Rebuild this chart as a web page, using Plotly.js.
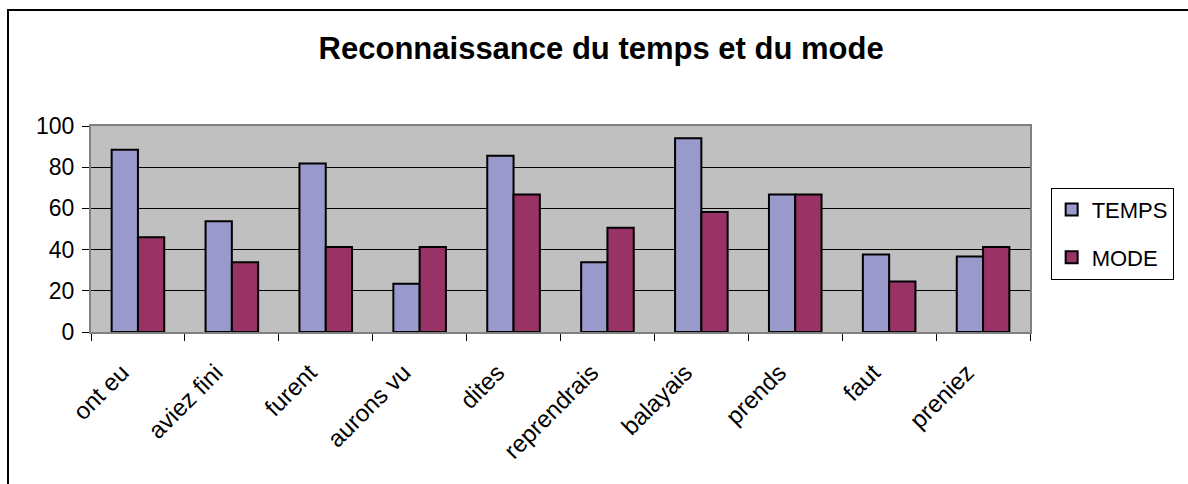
<!DOCTYPE html>
<html>
<head>
<meta charset="utf-8">
<script src="https://cdn.plot.ly/plotly-3.0.1.min.js"></script>
<style>
  html, body { margin: 0; padding: 0; background: #fff; }
  #wrap { position: relative; width: 1188px; height: 484px; overflow: hidden; }
  #chart { width: 1188px; height: 484px; }
  #frame { position: absolute; left: 7px; top: 9px; width: 1300px; height: 600px;
           border-left: 2px solid #000; border-top: 2px solid #000; pointer-events: none; }
</style>
</head>
<body>
<div id="wrap">
  <div id="chart"></div>
  <div id="frame"></div>
</div>
<script>
const categories = ["ont eu", "aviez fini", "furent", "aurons vu", "dites",
                    "reprendrais", "balayais", "prends", "faut", "preniez"];
const tempsValues = [88.5, 53.8, 81.8, 23.4, 85.5, 33.9, 94.0, 66.8, 37.6, 36.6];
const modeValues  = [46.0, 33.9, 41.3, 41.3, 66.8, 50.6, 58.2, 66.8, 24.5, 41.3];
const yTicks = [0, 20, 40, 60, 80, 100];

const FONT = "Liberation Sans, Arial, sans-serif";

const traces = [
  { type: "bar", name: "TEMPS", x: categories, y: tempsValues, legendgroup: "a",
    marker: { color: "#9999CC", line: { color: "#000", width: 2 } } },
  { type: "bar", name: "MODE", x: categories, y: modeValues, legendgroup: "b",
    marker: { color: "#993366", line: { color: "#000", width: 2 } } }
];

const layout = {
  width: 1188, height: 484,
  margin: { l: 91, r: 158, t: 126, b: 152 },
  paper_bgcolor: "#ffffff",
  plot_bgcolor: "#C0C0C0",
  font: { family: FONT, color: "#000" },
  title: { text: "<b>Reconnaissance du temps et du mode</b>",
           font: { family: FONT, size: 31, color: "#000" },
           xref: "container", x: 0.506, xanchor: "center",
           yref: "container", y: 0.90, yanchor: "middle" },
  barmode: "group", bargap: 0.44, bargroupgap: 0,
  xaxis: { type: "category", tickson: "boundaries", ticks: "outside", ticklen: 7,
           tickcolor: "#000", tickwidth: 1, tickangle: -45,
           ticklabelstandoff: 15, ticklabelshift: -16,
           tickfont: { family: FONT, size: 24, color: "#000" },
           showline: true, linecolor: "#808080", linewidth: 2, mirror: true,
           showgrid: false, zeroline: false, fixedrange: true },
  yaxis: { range: [0, 100], tickvals: yTicks, ticks: "outside", ticklen: 7,
           tickcolor: "#000", tickwidth: 1, ticklabelstandoff: 3,
           tickfont: { family: FONT, size: 23, color: "#000" },
           showgrid: true, gridcolor: "#000", gridwidth: 1,
           showline: true, linecolor: "#808080", linewidth: 2, mirror: true,
           zeroline: false, fixedrange: true },
  legend: { x: 1.022, xanchor: "left", y: 0.70, yanchor: "top",
            bordercolor: "#000", borderwidth: 1, bgcolor: "#fff",
            font: { family: FONT, size: 22, color: "#000" },
            traceorder: "grouped", tracegroupgap: 16 },
  showlegend: true
};

Plotly.newPlot("chart", traces, layout, { displayModeBar: false, staticPlot: true });
</script>
</body>
</html>
